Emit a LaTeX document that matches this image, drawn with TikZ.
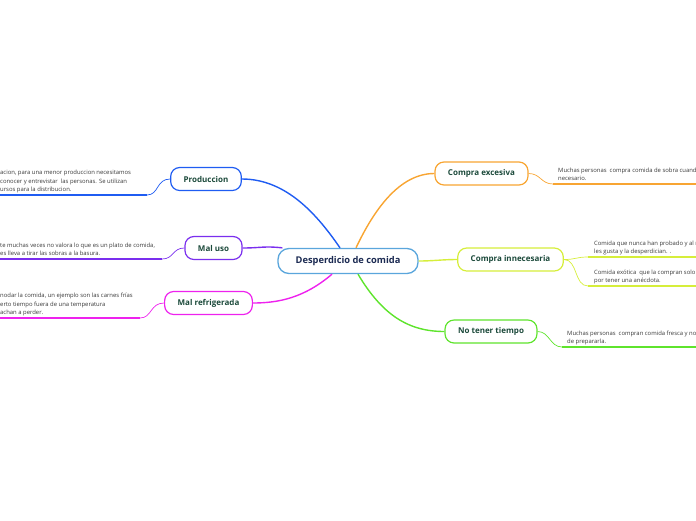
\documentclass[tikz,border=0pt]{standalone}
\usepackage{fontspec}
\setmainfont{Open Sans}
\definecolor{rootblue}{HTML}{5AA6DC}
\definecolor{rootink}{HTML}{1B2A52}
\definecolor{topicink}{HTML}{1C4A3B}
\definecolor{noteink}{HTML}{3A3A3A}
\definecolor{cprod}{HTML}{1F5CF2}
\definecolor{cuso}{HTML}{7A2EEE}
\definecolor{cref}{HTML}{EE22EE}
\definecolor{cexc}{HTML}{F8A532}
\definecolor{cinn}{HTML}{D6EE3A}
\definecolor{ctie}{HTML}{5EE42C}

\begin{document}
\begin{tikzpicture}[x=1pt, y=-1pt,
    root/.style={draw=rootblue, line width=1.3pt, rounded corners=11pt, fill=white,
      text=rootink, font=\bfseries\fontsize{9.3}{11}\selectfont,
      minimum width=140pt, minimum height=25pt, inner sep=0pt},
    topic/.style={draw=#1, line width=1.2pt, rounded corners=9pt, fill=white,
      text=topicink, font=\bfseries\fontsize{8}{10}\selectfont,
      inner xsep=13pt, inner ysep=0pt, minimum height=23pt},
    note/.style={anchor=south west, align=left, text=noteink,
      font=\fontsize{5.9}{8.8}\selectfont, inner sep=0pt, text depth=0pt},
    link/.style={draw=#1, line width=1.4pt},
    twig/.style={draw=#1, line width=0.7pt},
    uline/.style={draw=#1, line width=1.6pt}
  ]
    \useasboundingbox (0,0) rectangle (696,520);
    \clip (0,0) rectangle (696,520);

    % centre and main branches
    \node[root] (root) at (348,261) {Desperdicio de comida};
    \node[topic=cprod] (prod) at (206,179) {Produccion};
    \node[topic=cuso] (uso) at (213.5,248) {Mal uso};
    \node[topic=cref] (refr) at (208.5,303) {Mal refrigerada};
    \node[topic=cexc] (exce) at (481.5,173.5) {Compra excesiva};
    \node[topic=cinn] (inne) at (510.5,259.5) {Compra innecesaria};
    \node[topic=ctie] (tiem) at (491,331.5) {No tener tiempo};

    \draw[link=cprod] ([xshift=-8pt]root.north) .. controls +(-22,-32) and +(45,0) .. (prod.east);
    \draw[link=cuso] ([xshift=5pt]root.north west) .. controls +(-18,-2) and +(18,0) .. (uso.east);
    \draw[link=cref] ([xshift=-16pt]root.south) .. controls +(-28,24) and +(25,0) .. (refr.east);
    \draw[link=cexc] ([xshift=8pt]root.north) .. controls +(18,-38) and +(-35,0) .. (exce.west);
    \draw[link=cinn] (root.east) .. controls +(15,0) and +(-15,0) .. (inne.west);
    \draw[link=ctie] ([xshift=10pt]root.south) .. controls +(25,42) and +(-35,0) .. (tiem.west);

    % leaves on the left
    \coordinate (prod-end) at (147,195);
    \coordinate (uso-end) at (162,259);
    \coordinate (refr-end) at (140,318);
    \node[note] (prodnote) at (0,192) {acion, para una menor produccion necesitamos\\
      conocer y entrevistar\ \ las personas. Se utilizan\\ursos para la distribucion.};
    \node[note] (usonote) at (0,256) {te muchas veces no valora lo que es un plato de comida,\\
      es lleva a tirar las sobras a la basura.};
    \node[note] (refrnote) at (0,315) {nodar la comida, un ejemplo son las carnes frías\\
      erto tiempo fuera de una temperatura\\achan a perder.};
    \draw[twig=cprod] (prod.west) .. controls +(-14,0) and +(12,0) .. (prod-end);
    \draw[twig=cuso] (uso.west) .. controls +(-12,0) and +(12,0) .. (uso-end);
    \draw[twig=cref] (refr.west) .. controls +(-14,0) and +(12,0) .. (refr-end);
    \draw[uline=cprod] (prod-end) -- ++(-150,0);
    \draw[uline=cuso] (uso-end) -- ++(-165,0);
    \draw[uline=cref] (refr-end) -- ++(-145,0);

    % leaves on the right
    \coordinate (exce-in) at (553,184);
    \coordinate (inne-in1) at (588,257);
    \coordinate (inne-in2) at (588,286);
    \coordinate (tiem-in) at (562,347);
    \node[note] (excenote) at (558,181) {Muchas personas\ \ compra comida de sobra cuand\\necesario.};
    \node[note] (innenote1) at (594,254) {Comida que nunca han probado y al n\\les gusta y la desperdician. .};
    \node[note] (innenote2) at (594,283) {Comida exótica\ \ que la compran solo\\por tener una anécdota.};
    \node[note] (tiemnote) at (567,344) {Muchas personas\ \ compran comida fresca y no\\de prepararla.};
    \draw[twig=cexc] (exce.east) .. controls +(12,0) and +(-12,0) .. (exce-in);
    \draw[twig=cinn] (inne.east) .. controls +(12,0) and +(-12,0) .. (inne-in1);
    \draw[twig=cinn] (inne.east) .. controls +(14,0) and +(-14,0) .. (inne-in2);
    \draw[twig=ctie] (tiem.east) .. controls +(12,0) and +(-12,0) .. (tiem-in);
    \draw[uline=cexc] (exce-in) -- ++(150,0);
    \draw[uline=cinn] (inne-in1) -- ++(120,0);
    \draw[uline=cinn] (inne-in2) -- ++(120,0);
    \draw[uline=ctie] (tiem-in) -- ++(140,0);
  \end{tikzpicture}
\end{document}
